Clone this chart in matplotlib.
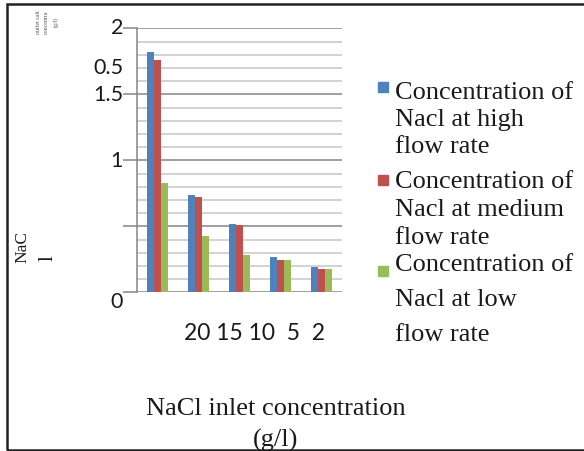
import matplotlib
matplotlib.use('Agg')
import matplotlib.pyplot as plt
import matplotlib.transforms as mtransforms
from matplotlib.patches import Rectangle
import numpy as np

# Outlet NaCl concentration for each inlet concentration and flow rate
inlet_labels = ['20', '15', '10', '5', '2']
high_flow = [1.82, 0.74, 0.52, 0.265, 0.19]
medium_flow = [1.76, 0.72, 0.51, 0.245, 0.18]
low_flow = [0.83, 0.425, 0.28, 0.245, 0.18]

series_names = ['Concentration of\nNacl at high\nflow rate',
                'Concentration of\nNacl at medium\nflow rate',
                'Concentration of\nNacl at low\nflow rate']
colors = ['#4F81BD', '#C0504D', '#9BBB59']

# y tick labels as printed on the axis (value, text)
ytick_vals = [2.01, 1.71, 1.5, 1.0, -0.064]
ytick_text = ['2', '0.5', '1.5', '1', '0']

W, H = 584, 452
fig = plt.figure(figsize=(W / 100, H / 100), dpi=100)
ax = fig.add_axes([137 / W, 1 - 293.3 / H, 205 / W, 264 / H])

x = np.arange(len(inlet_labels))
bw = 0.17
for k, (vals, c) in enumerate(zip([high_flow, medium_flow, low_flow], colors)):
    ax.bar(x + (k - 1) * bw, vals, width=bw, color=c, zorder=3, linewidth=0)

ax.set_xlim(-0.5, 4.5)
ax.set_ylim(0, 2)
ax.set_yticks([0, 0.5, 1, 1.5, 2])
ax.set_yticks(np.arange(0, 2.01, 0.1), minor=True)
ax.grid(which='minor', axis='y', color='#c6c6c6', lw=1.1, zorder=0)
ax.grid(which='major', axis='y', color='#858585', lw=1.1, zorder=1)
ax.tick_params(axis='y', which='major', length=10, width=1.1, color='#858585',
               labelleft=False)
ax.tick_params(axis='y', which='minor', length=0)
ax.tick_params(axis='x', length=0, labelbottom=False)
for s in ['top', 'right', 'bottom']:
    ax.spines[s].set_visible(False)
ax.spines['left'].set_color('#858585')
ax.spines['left'].set_linewidth(1.1)
ax.spines['left'].set_zorder(4)

# y tick labels drawn as text beside the axis
trans = mtransforms.blended_transform_factory(ax.transAxes, ax.transData)
trans = mtransforms.offset_copy(trans, fig=fig, x=-14, y=0, units='dots')
for v, t in zip(ytick_vals, ytick_text):
    ax.text(0, v, t, transform=trans, ha='right', va='center',
            fontsize=15.5, family='Lato', color='#1a1a1a')

# category labels below the plot
fig.text(255 / W, 1 - 334 / H, '  '.join(inlet_labels).replace('20  15  10', '20 15 10'),
         ha='center', va='center', fontsize=16.5, family='Lato', color='#1a1a1a')

# axis titles
serif = 'Liberation Serif'
fig.text(276 / W, 1 - 409 / H, 'NaCl inlet concentration', ha='center', va='center',
         fontsize=19, family=serif, color='#1a1a1a')
fig.text(276 / W, 1 - 440 / H, '(g/l)', ha='center', va='center',
         fontsize=19, family=serif, color='#1a1a1a')
fig.text(22 / W, 1 - 247 / H, 'NaC', rotation=90, ha='center', va='center',
         fontsize=12.5, family=serif, color='#1a1a1a')
fig.text(48 / W, 1 - 258 / H, 'l', rotation=90, ha='center', va='center',
         fontsize=15, family=serif, color='#1a1a1a')
fig.text(47 / W, 1 - 22 / H, 'outlet salt\nconcentra\n(g/l)', rotation=90, ha='center',
         va='center', fontsize=4.3, family=serif, color='#555555', linespacing=1.8)

# legend, one text per line
line_y = [[93, 120, 147], [182, 210, 238], [265, 300, 335]]
marker_y = [88, 181, 272]
for name, c, ys, my in zip(series_names, colors, line_y, marker_y):
    fig.patches.append(Rectangle((378 / W, 1 - (my + 5) / H), 10 / W, 10 / H,
                                 transform=fig.transFigure, color=c))
    for line, y in zip(name.split('\n'), ys):
        fig.text(395 / W, 1 - y / H, line, ha='left', va='center', fontsize=19,
                 family=serif, color='#1a1a1a')

# frame round the figure
fig.patches.append(Rectangle((6.5 / W, 1 - 451 / H), 1.1, 446.5 / H,
                             transform=fig.transFigure, fill=False, ec='#222222', lw=1.8))

fig.savefig('out.png', dpi=100)
